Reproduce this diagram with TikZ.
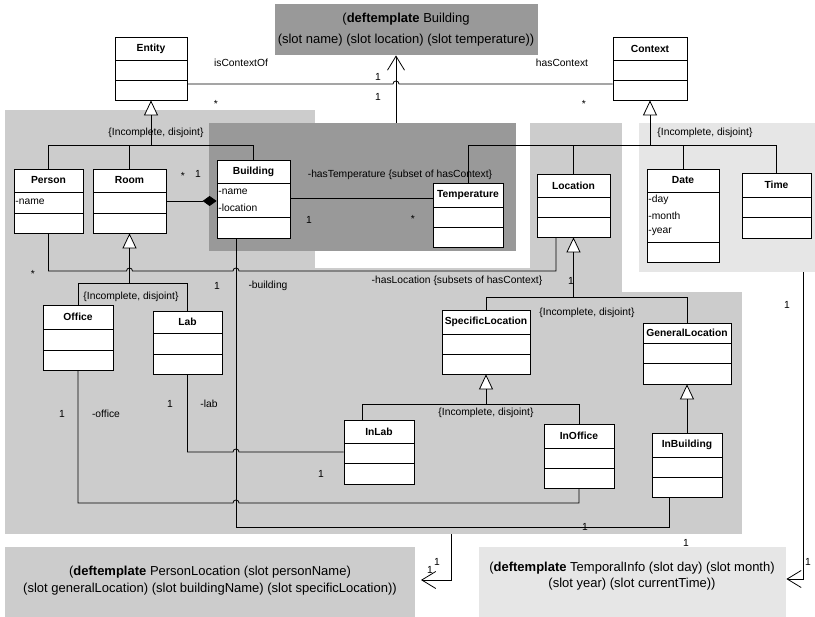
\documentclass[tikz,border=0pt]{standalone}
\usepackage{fontspec}
\setmainfont{Liberation Sans}
\usetikzlibrary{arrows.meta,fit}

\definecolor{pkgdark}{HTML}{999999}
\definecolor{pkgmid}{HTML}{CCCCCC}
\definecolor{pkglight}{HTML}{E6E6E6}

% class box: name, x1, y1, x2, y2, first separator, second separator, title
\newcommand\umlclass[8]{%
  \node[classbox, fit={(#2,#3) (#4,#5)}] (#1) {};
  \draw (#2,#6) -- (#4,#6) (#2,#7) -- (#4,#7);
  \node[ctitle] at ({(#2+#4)/2},{(#3+#6)/2}) {#8};
}
\newcommand\umlattr[3]{\node[attrtxt] at (#1,#2) {#3};}

\begin{document}
\begin{tikzpicture}[x=1pt,y=-1pt,line width=0.8pt,
  classbox/.style={draw=black,fill=white,inner sep=0pt,line width=0.8pt},
  ctitle/.style={font=\bfseries\fontsize{10.3}{12}\selectfont,inner sep=0pt},
  attrtxt/.style={font=\fontsize{10.3}{12}\selectfont,inner sep=0pt,anchor=west},
  lbl/.style={font=\fontsize{10.3}{12}\selectfont,inner sep=0pt},
  tpl/.style={font=\fontsize{13}{15}\selectfont,inner sep=0pt},
  region/.style={inner sep=0pt,draw=none},
  gen/.style={-{Triangle[length=15pt,width=14pt,fill=white]}},
  comp/.style={-{Diamond[length=14pt,width=10pt]}},
  dep/.style={-{Straight Barb[length=14pt,width=17pt]}},
]
\useasboundingbox (0,0) rectangle (815,617);
\fill[white] (0,0) rectangle (815,617);

% ---- packages (shaded areas)
\node[region,fill=pkgmid,fit={(5,110) (315,534)}] (pkgA) {};
\node[region,fill=pkgmid,fit={(5,268) (622,534)}] (pkgB) {};
\node[region,fill=pkgmid,fit={(530,123) (622,534)}] (pkgC) {};
\node[region,fill=pkgmid,fit={(622,292) (742,534)}] (pkgD) {};
\node[region,fill=pkglight,fit={(639,123) (815,272)}] (timepkg) {};
\node[region,fill=pkgdark,fit={(209,123) (516,251)}] (bldpkg) {};

% ---- CLIPS templates
\node[region,fill=pkgdark,fit={(275,4) (538,55)}] (bldtpl) {};
\node[tpl] at (406,19) {(\textbf{deftemplate} Building};
\node[tpl] at (406,40) {(slot name) (slot location) (slot temperature))};

\node[region,fill=pkgmid,fit={(5,547) (415,617)}] (perstpl) {};
\node[tpl] at (210,572) {(\textbf{deftemplate} PersonLocation (slot personName)};
\node[tpl] at (210,589) {(slot generalLocation) (slot buildingName) (slot specificLocation))};

\node[region,fill=pkglight,fit={(479,547) (786,617)}] (timetpl) {};
\node[tpl] at (632,568) {(\textbf{deftemplate} TemporalInfo (slot day) (slot month)};
\node[tpl] at (632,584) {(slot year) (slot currentTime))};

% ---- classes
\umlclass{entity}{115}{37}{187}{100}{60}{80}{Entity}
\umlclass{context}{613}{37}{687}{100}{60}{80}{Context}
\umlclass{person}{14}{169}{83}{233}{192}{213}{Person}
\umlattr{15}{202}{-name}
\umlclass{room}{93}{169}{166}{233}{192}{213}{Room}
\umlclass{building}{217}{160}{290}{238}{183}{217}{Building}
\umlattr{218}{192}{-name}
\umlattr{218}{208}{-location}
\umlclass{temperature}{433}{183}{503}{247}{207}{227}{Temperature}
\umlclass{location}{537}{174}{610}{237}{197}{217}{Location}
\umlclass{date}{647}{169}{719}{262}{192}{242}{Date}
\umlattr{648}{200}{-day}
\umlattr{648}{216}{-month}
\umlattr{648}{232}{-year}
\umlclass{time}{742}{173}{811}{238}{197}{217}{Time}
\umlclass{office}{43}{305}{113}{370}{329}{350}{Office}
\umlclass{lab}{153}{311}{222}{374}{333}{354}{Lab}
\umlclass{specloc}{442}{310}{530}{374}{334}{354}{SpecificLocation}
\umlclass{genloc}{643}{323}{731}{384}{343}{363}{GeneralLocation}
\umlclass{inlab}{344}{420}{414}{484}{443}{463}{InLab}
\umlclass{inoffice}{544}{424}{614}{488}{448}{468}{InOffice}
\umlclass{inbuilding}{652}{433}{722}{497}{457}{477}{InBuilding}

% ---- associations
\draw (entity.east |- 0,84) -- (393,84) arc[start angle=180,end angle=0,radius=3pt]
      -- (context.west |- 0,84);
\draw[dep] (bldpkg.north -| 396,0) -- (bldtpl.south -| 396,0);

\draw[comp] (room.east) -- (room.east -| building.west);
\draw (building.east |- 0,198) -- (temperature.west |- 0,198);

\draw (person.south) -- (person.south |- 0,271)
      -- (126.5,271) arc[start angle=180,end angle=0,radius=3pt]
      -- (233,271) arc[start angle=180,end angle=0,radius=3pt]
      -- (556,271) -- (location.south -| 556,0);

\draw (building.south -| 236,0) -- (236,527) -- (669,527) -- (inbuilding.south -| 669,0);
\draw (lab.south) -- (lab.south |- 0,452)
      -- (233,452) arc[start angle=180,end angle=0,radius=3pt] -- (inlab.west);
\draw (office.south) -- (office.south |- 0,503)
      -- (233,503) arc[start angle=180,end angle=0,radius=3pt]
      -- (inoffice.south |- 0,503) -- (inoffice.south);

% ---- generalizations
\draw[gen] (entity.south |- 0,145) -- (entity.south);
\draw (person.north) -- (person.north |- 0,145) -- (building.north |- 0,145) -- (building.north);
\draw (room.north) -- (room.north |- 0,145);

\draw[gen] (context.south |- 0,145) -- (context.south);
\draw (temperature.north) -- (temperature.north |- 0,145) -- (time.north |- 0,145) -- (time.north);
\draw (location.north) -- (location.north |- 0,145);
\draw (date.north) -- (date.north |- 0,145);

\draw[gen] (room.south |- 0,283) -- (room.south);
\draw (office.north) -- (office.north |- 0,283) -- (lab.north |- 0,283) -- (lab.north);

\draw[gen] (location.south |- 0,297) -- (location.south);
\draw (specloc.north) -- (specloc.north |- 0,297) -- (genloc.north |- 0,297) -- (genloc.north);

\draw[gen] (specloc.south |- 0,404) -- (specloc.south);
\draw (inlab.north -| 362,0) -- (362,404) -- (inoffice.north |- 0,404) -- (inoffice.north);

\draw[gen] (inbuilding.north) -- (genloc.south);

% ---- dependencies to the templates
\coordinate (plhead) at (421,580);
\draw[dep] (pkgB.south -| 451,0) -- (451,580) -- (plhead);
\draw[dep] (timepkg.south -| 803,0) -- (803,579) -- (timetpl.east |- 0,579);

% ---- labels
\node[lbl] at (241,63) {isContextOf};
\node[lbl] at (562,63) {hasContext};
\node[lbl] at (378,77) {1};
\node[lbl] at (378,97) {1};
\node[lbl] at (216,104) {*};
\node[lbl] at (584,104) {*};
\node[lbl] at (156,133) {\{Incomplete, disjoint\}};
\node[lbl] at (705,133) {\{Incomplete, disjoint\}};
\node[lbl] at (183,176) {*};
\node[lbl] at (198,174) {1};
\node[lbl] at (400,175) {-hasTemperature \{subset of hasContext\}};
\node[lbl] at (309,220) {1};
\node[lbl] at (413,219) {*};
\node[lbl] at (457,281) {-hasLocation \{subsets of hasContext\}};
\node[lbl] at (33,274) {*};
\node[lbl] at (571,281) {1};
\node[lbl] at (217,286) {1};
\node[lbl] at (268,286) {-building};
\node[lbl] at (131,297) {\{Incomplete, disjoint\}};
\node[lbl] at (587,313) {\{Incomplete, disjoint\}};
\node[lbl] at (62,414) {1};
\node[lbl] at (106,414) {-office};
\node[lbl] at (170,404) {1};
\node[lbl] at (209,404) {-lab};
\node[lbl] at (486,413) {\{Incomplete, disjoint\}};
\node[lbl] at (321,474) {1};
\node[lbl] at (585,527) {1};
\node[lbl] at (787,305) {1};
\node[lbl] at (430,570) {1};
\node[lbl] at (437,562) {1};
\node[lbl] at (686,543) {1};
\node[lbl] at (808,562) {1};
\end{tikzpicture}
\end{document}
